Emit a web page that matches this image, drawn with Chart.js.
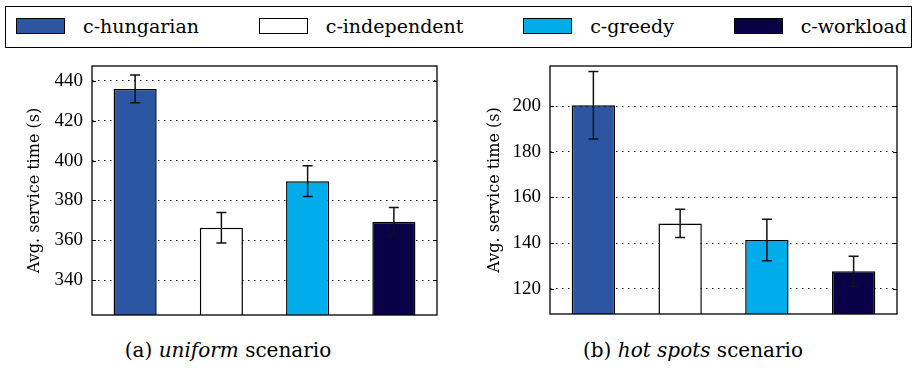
<!DOCTYPE html>
<html>
<head>
<meta charset="utf-8">
<script src="https://cdn.jsdelivr.net/npm/chart.js@4.4.0/dist/chart.umd.min.js"></script>
<style>
  body { margin: 0; width: 915px; height: 371px; background: #fff; position: relative; overflow: hidden; font-family: "DejaVu Serif", serif; color: #000; }
  #legend { position: absolute; left: 5px; top: 6px; width: 907px; height: 42px; box-sizing: border-box; border: 1.3px solid #000;
            display: flex; align-items: center; justify-content: space-between; padding: 0 4px 2px 10px; font-size: 19px; }
  .item { display: flex; align-items: center; }
  .swatch { width: 47px; height: 14px; border: 1.2px solid #000; margin-right: 18px; }
  canvas { position: absolute; top: 56px; }
  .caption { position: absolute; top: 338px; line-height: 24px; font-size: 20px; text-align: center; }
</style>
</head>
<body>
<div id="legend"></div>
<canvas id="uniform" width="460" height="270" style="left:0px"></canvas>
<canvas id="hotspots" width="455" height="270" style="left:460px"></canvas>
<div class="caption" style="left:0px;width:456px">(a) <i>uniform</i> scenario</div>
<div class="caption" style="left:471px;width:444px">(b) <i>hot spots</i> scenario</div>
<script>
// methods and their colours
const methods = ["c-hungarian", "c-independent", "c-greedy", "c-workload"];
const colors = ["#2c55a2", "#ffffff", "#00adea", "#0a0048"];

// (a) uniform scenario
const uniformMean = [436, 366.3, 389.7, 369.3];
const uniformErr = [7, 7.6, 7.7, 7.2];
const uniformTicks = [340, 360, 380, 400, 420, 440];
const uniformRange = [322.5, 447.5];

// (b) hot spots scenario
const hotMean = [200.4, 148.6, 141.3, 127.6];
const hotErr = [14.8, 6.2, 9.1, 6.6];
const hotTicks = [120, 140, 160, 180, 200];
const hotRange = [108.9, 217.6];

// legend
var legend = document.getElementById("legend");
for (let i = 0; i < methods.length; i++) {
  var item = document.createElement("div");
  item.className = "item";
  var sw = document.createElement("div");
  sw.className = "swatch";
  sw.style.backgroundColor = colors[i];
  var label = document.createElement("span");
  label.innerHTML = methods[i];
  item.appendChild(sw);
  item.appendChild(label);
  legend.appendChild(item);
}

// error bars, frame and the little inner tick marks
const extras = {
  id: "extras",
  afterDatasetsDraw(chart, args, opts) {
    const ctx = chart.ctx;
    const y = chart.scales.y;
    const meta = chart.getDatasetMeta(0);
    ctx.save();
    ctx.strokeStyle = "#111";
    ctx.lineWidth = 1.5;
    meta.data.forEach((bar, i) => {
      const top = y.getPixelForValue(opts.mean[i] + opts.err[i]);
      const bot = y.getPixelForValue(opts.mean[i] - opts.err[i]);
      ctx.beginPath();
      ctx.moveTo(bar.x, top); ctx.lineTo(bar.x, bot);
      ctx.moveTo(bar.x - 5, top); ctx.lineTo(bar.x + 5, top);
      ctx.moveTo(bar.x - 5, bot); ctx.lineTo(bar.x + 5, bot);
      ctx.stroke();
    });
    ctx.restore();
  },
  afterDraw(chart) {
    const ctx = chart.ctx;
    const a = chart.chartArea;
    const y = chart.scales.y;
    ctx.save();
    ctx.strokeStyle = "#000";
    ctx.lineWidth = 1;
    y.ticks.forEach((t) => {
      const py = Math.round(y.getPixelForValue(t.value)) + 0.5;
      ctx.beginPath();
      ctx.moveTo(a.left, py); ctx.lineTo(a.left + 4, py);
      ctx.moveTo(a.right - 4, py); ctx.lineTo(a.right, py);
      ctx.stroke();
    });
    ctx.lineWidth = 1.3;
    ctx.strokeRect(a.left, a.top, a.right - a.left, a.bottom - a.top);
    ctx.restore();
  },
};

function makeChart(id, mean, err, tickValues, range, axisWidth, pad) {
  return new Chart(document.getElementById(id), {
    type: "bar",
    data: {
      labels: methods,
      datasets: [{
        data: mean,
        backgroundColor: colors,
        borderColor: "#000",
        borderWidth: 1.5,
        categoryPercentage: 1,
        barPercentage: 0.5,
      }],
    },
    options: {
      responsive: false,
      animation: false,
      devicePixelRatio: 1,
      layout: { padding: pad },
      plugins: {
        legend: { display: false },
        tooltip: { enabled: false },
        extras: { mean: mean, err: err },
      },
      scales: {
        x: { display: false },
        y: {
          min: range[0],
          max: range[1],
          afterBuildTicks: (scale) => { scale.ticks = tickValues.map((v) => ({ value: v })); },
          afterFit: (scale) => {
            scale.width = axisWidth;
            scale.paddingTop = 0;
            scale.paddingBottom = 0;
          },
          ticks: { color: "#000", padding: 9, font: { family: "'Liberation Serif', serif", size: 19 } },
          grid: { color: "#000", lineWidth: 1, drawTicks: false },
          border: { display: false, dash: [1.5, 4.5] },
          title: {
            display: true,
            text: "Avg. service time (s)",
            color: "#000",
            font: { family: "'DejaVu Serif', serif", size: 16 },
            padding: { top: 25, bottom: 0 },
          },
        },
      },
    },
    plugins: [extras],
  });
}

window.onload = function () {
  makeChart("uniform", uniformMean, uniformErr, uniformTicks, uniformRange, 92, { top: 10, right: 23, bottom: 11, left: 0 });
  makeChart("hotspots", hotMean, hotErr, hotTicks, hotRange, 90, { top: 10, right: 18, bottom: 12, left: 0 });
};
</script>
</body>
</html>
